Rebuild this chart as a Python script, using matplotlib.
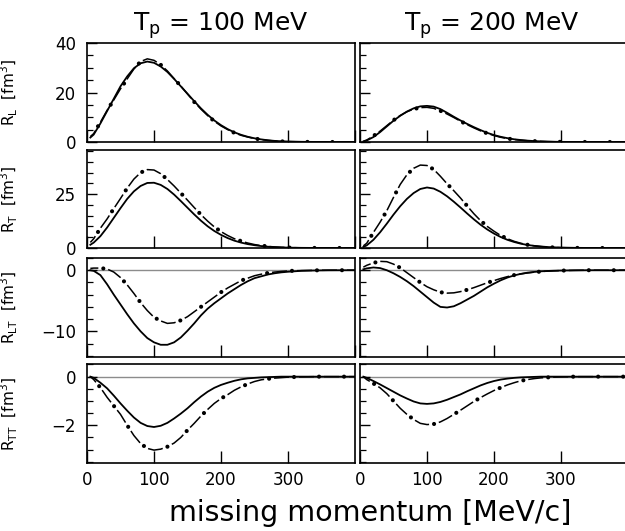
import matplotlib
matplotlib.use("Agg")
import matplotlib.pyplot as plt
from matplotlib.ticker import MultipleLocator

# missing momentum grid [MeV/c]
mom = [5, 10, 20, 30, 40, 50, 60, 70, 80, 90, 100, 110, 120, 130, 140, 150, 160, 170,
       180, 190, 200, 210, 220, 230, 240, 250, 260, 270, 280, 290, 300, 320, 340, 360, 380, 400]

# R_L, Tp = 100 / 200 MeV  (solid / dash-dot)
rl_100_full = [1.8, 3.0, 7.5, 12.5, 17.5, 22.5, 26.5, 29.8, 31.8, 32.5, 32.0, 30.5, 28.3, 25.5, 22.5, 19.5, 16.5, 13.6,
               11.0, 8.7, 6.8, 5.2, 3.9, 2.9, 2.1, 1.5, 1.05, 0.7, 0.45, 0.3, 0.2, 0.08, 0.03, 0.01, 0, 0]
rl_100_dd = [2.2, 3.4, 8.0, 12.8, 17.0, 21.5, 25.5, 29.5, 32.5, 33.6, 33.0, 31.2, 28.7, 25.6, 22.6, 19.4, 16.2, 13.3,
             10.7, 8.4, 6.5, 5.0, 3.7, 2.7, 2.0, 1.4, 1.0, 0.65, 0.4, 0.25, 0.15, 0.05, 0.02, 0, 0, 0]
rl_200_full = [0.2, 0.6, 2.0, 4.0, 6.3, 8.6, 10.6, 12.3, 13.6, 14.4, 14.6, 14.3, 13.3, 11.8, 10.2, 8.7, 7.3, 6.0,
               4.8, 3.7, 2.8, 2.1, 1.55, 1.1, 0.8, 0.55, 0.38, 0.25, 0.16, 0.1, 0.06, 0.02, 0.01, 0, 0, 0]
rl_200_dd = [0.3, 0.8, 2.4, 4.4, 6.6, 8.8, 10.7, 12.2, 13.3, 13.9, 14.0, 13.6, 12.6, 11.3, 9.9, 8.4, 7.0, 5.7,
             4.5, 3.5, 2.6, 1.9, 1.4, 1.0, 0.7, 0.5, 0.35, 0.25, 0.15, 0.1, 0.06, 0.02, 0, 0, 0, 0]

# R_T
rt_100_full = [1.5, 2.5, 5.5, 9.5, 14.0, 18.5, 22.8, 26.3, 28.8, 30.2, 30.3, 29.3, 27.4, 24.8, 21.8, 18.7, 15.6, 12.7,
               10.1, 7.9, 6.1, 4.6, 3.4, 2.5, 1.8, 1.3, 0.9, 0.6, 0.4, 0.27, 0.18, 0.07, 0.03, 0.01, 0, 0]
rt_100_dd = [2.6, 4.3, 9.2, 13.5, 18.3, 23.0, 27.8, 32.0, 35.0, 36.4, 36.2, 34.5, 31.8, 28.8, 25.5, 22.2, 18.8, 15.5,
             12.5, 9.8, 7.6, 5.8, 4.3, 3.2, 2.3, 1.6, 1.1, 0.75, 0.5, 0.32, 0.2, 0.08, 0.03, 0.01, 0, 0]
rt_200_full = [0.5, 1.2, 3.8, 7.3, 11.3, 15.5, 19.4, 22.8, 25.5, 27.4, 28.1, 27.6, 26.1, 24.0, 21.5, 18.8, 16.0, 13.3,
               10.8, 8.6, 6.7, 5.1, 3.8, 2.8, 2.0, 1.4, 1.0, 0.7, 0.45, 0.3, 0.2, 0.08, 0.03, 0.01, 0, 0]
rt_200_dd = [1.0, 2.2, 7.2, 12.0, 17.3, 23.5, 29.5, 34.0, 37.0, 38.5, 38.3, 36.5, 33.3, 29.8, 26.6, 23.2, 19.5, 15.9,
             12.7, 10.0, 7.8, 5.8, 4.3, 3.1, 2.2, 1.5, 1.0, 0.65, 0.4, 0.25, 0.15, 0.05, 0.02, 0, 0, 0]

# R_LT
rlt_100_full = [0.0, -0.1, -0.8, -2.3, -4.0, -5.6, -7.2, -8.7, -10.0, -11.1, -11.8, -12.2, -12.2, -11.8, -11.0, -9.9,
                -8.7, -7.4, -6.3, -5.4, -4.6, -3.8, -3.1, -2.4, -1.8, -1.3, -1.0, -0.7, -0.5, -0.35, -0.25, -0.1,
                -0.04, -0.01, 0, 0]
rlt_100_dd = [0.3, 0.35, 0.35, 0.2, -0.3, -1.2, -2.4, -3.8, -5.3, -6.6, -7.7, -8.3, -8.7, -8.6, -8.2, -7.6, -6.8, -6.0,
              -5.2, -4.4, -3.6, -2.9, -2.3, -1.7, -1.3, -0.9, -0.65, -0.45, -0.3, -0.2, -0.12, -0.05, -0.02, 0, 0, 0]
rlt_200_full = [0.15, 0.3, 0.45, 0.35, 0.0, -0.5, -1.1, -1.8, -2.6, -3.5, -4.4, -5.3, -6.0, -6.1, -5.9, -5.4, -4.8,
                -4.2, -3.5, -2.8, -2.2, -1.65, -1.2, -0.85, -0.6, -0.4, -0.28, -0.18, -0.12, -0.08, -0.05, -0.02,
                0, 0, 0, 0]
rlt_200_dd = [0.5, 0.8, 1.2, 1.45, 1.4, 1.0, 0.4, -0.4, -1.2, -2.0, -2.7, -3.2, -3.6, -3.75, -3.7, -3.5, -3.2, -2.85,
              -2.45, -2.05, -1.7, -1.35, -1.05, -0.8, -0.6, -0.45, -0.32, -0.22, -0.15, -0.1, -0.06, -0.02, 0, 0, 0, 0]

# R_TT
rtt_100_full = [0.0, -0.05, -0.25, -0.48, -0.78, -1.1, -1.4, -1.68, -1.9, -2.03, -2.07, -2.02, -1.9, -1.72, -1.52,
                -1.3, -1.05, -0.82, -0.62, -0.46, -0.34, -0.25, -0.17, -0.11, -0.07, -0.05, -0.03, -0.02, -0.01,
                0, 0, 0, 0, 0, 0, 0]
rtt_100_dd = [0.0, -0.12, -0.45, -0.85, -1.2, -1.55, -2.0, -2.42, -2.75, -2.95, -3.02, -2.98, -2.88, -2.73, -2.5, -2.2,
              -1.92, -1.62, -1.35, -1.1, -0.9, -0.74, -0.56, -0.42, -0.3, -0.2, -0.13, -0.09, -0.06, -0.04, -0.02,
              -0.01, 0, 0, 0, 0]
rtt_200_full = [0.0, -0.05, -0.18, -0.32, -0.47, -0.62, -0.77, -0.9, -1.02, -1.1, -1.12, -1.1, -1.04, -0.95, -0.84,
                -0.73, -0.6, -0.48, -0.36, -0.26, -0.18, -0.12, -0.08, -0.05, -0.03, -0.02, -0.01, 0, 0, 0, 0, 0,
                0, 0, 0, 0]
rtt_200_dd = [0.0, -0.12, -0.28, -0.46, -0.7, -1.0, -1.3, -1.55, -1.76, -1.92, -1.97, -1.95, -1.86, -1.72, -1.55,
              -1.38, -1.2, -1.02, -0.86, -0.71, -0.57, -0.45, -0.34, -0.25, -0.17, -0.12, -0.08, -0.05, -0.03,
              -0.02, -0.01, 0, 0, 0, 0, 0]

titles = ["T$_\\mathrm{p}$ = 100 MeV", "T$_\\mathrm{p}$ = 200 MeV"]
ylabels = ["R$_\\mathrm{L}$  [fm$^3$]", "R$_\\mathrm{T}$  [fm$^3$]",
           "R$_\\mathrm{LT}$  [fm$^3$]", "R$_\\mathrm{TT}$  [fm$^3$]"]
xticks = [0, 100, 200, 300]

rows = [
    ((rl_100_full, rl_100_dd), (rl_200_full, rl_200_dd)),
    ((rt_100_full, rt_100_dd), (rt_200_full, rt_200_dd)),
    ((rlt_100_full, rlt_100_dd), (rlt_200_full, rlt_200_dd)),
    ((rtt_100_full, rtt_100_dd), (rtt_200_full, rtt_200_dd)),
]
ylims = [(0, 40), (0, 45.5), (-14.2, 2.0), (-3.55, 0.52)]
ymajor = [20, 25, 10, 2]
yminor = [5, 5, 2, 0.5]

plt.rcParams["lines.scale_dashes"] = False
plt.rcParams["font.family"] = "DejaVu Sans"
plt.rcParams["mathtext.fontset"] = "dejavusans"

fig = plt.figure(figsize=(6.25, 5.31), dpi=100)
W, H = 625.0, 531.0

# axes boxes in pixels (top, bottom) per row, (left, right) per column
row_px = [(43, 142), (150, 248), (258, 357), (364, 463)]
col_px = [(87, 355), (360, 628)]

# dash-dot: thin dashes + fat round dots in the gaps, same period along the path
pt = 72 / 100.0  # points per pixel
period, dash = 25 * pt, 15 * pt
gap = period - dash
start = 12 * pt
dash_style = (start + dash + gap / 2, (dash, gap))
dot_style = (start, (0.01, period - 0.01))

for r in range(4):
    for c in range(2):
        top, bot = row_px[r]
        left, right = col_px[c]
        ax = fig.add_axes([left / W, 1 - bot / H, (right - left) / W, (bot - top) / H])
        full, dd = rows[r][c]

        if r >= 2:
            ax.axhline(0, color="0.55", lw=1.0, zorder=1)

        ax.plot(mom, full, color="black", lw=1.3, zorder=3)
        ax.plot(mom, dd, color="black", lw=1.1, linestyle=dash_style, zorder=3)
        ax.plot(mom, dd, color="black", lw=3.0, linestyle=dot_style,
                dash_capstyle="round", zorder=4)

        ax.set_xlim(0, 400)
        ax.set_ylim(*ylims[r])
        ax.xaxis.set_major_locator(MultipleLocator(100))
        ax.yaxis.set_major_locator(MultipleLocator(ymajor[r]))
        ax.yaxis.set_minor_locator(MultipleLocator(yminor[r]))
        ax.tick_params(which="both", direction="in", top=False, right=False, labelsize=12)
        ax.tick_params(axis="x", which="major", length=8.5, width=1.0, pad=6)
        ax.tick_params(axis="y", which="major", length=7.5, width=1.0, pad=8)
        ax.tick_params(axis="y", which="minor", length=4, width=0.9)
        for sp in ax.spines.values():
            sp.set_linewidth(1.2)

        if r == 3:
            ax.set_xticks(xticks)
            ax.set_xticklabels([str(t) for t in xticks])
        else:
            ax.tick_params(labelbottom=False)

        if c == 0:
            ax.set_ylabel(ylabels[r], fontsize=11)
            ax.yaxis.set_label_coords(-0.25, 0.5)
        else:
            ax.tick_params(labelleft=False)

# column titles
fig.text(221 / W, 1 - 31 / H, titles[0], fontsize=18, ha="center", va="baseline")
fig.text(492 / W, 1 - 31 / H, titles[1], fontsize=18, ha="center", va="baseline")

fig.text(370 / W, 1 - 521 / H, "missing momentum [MeV/c]", fontsize=20.5, ha="center", va="baseline")

fig.savefig("out.png", dpi=100)
